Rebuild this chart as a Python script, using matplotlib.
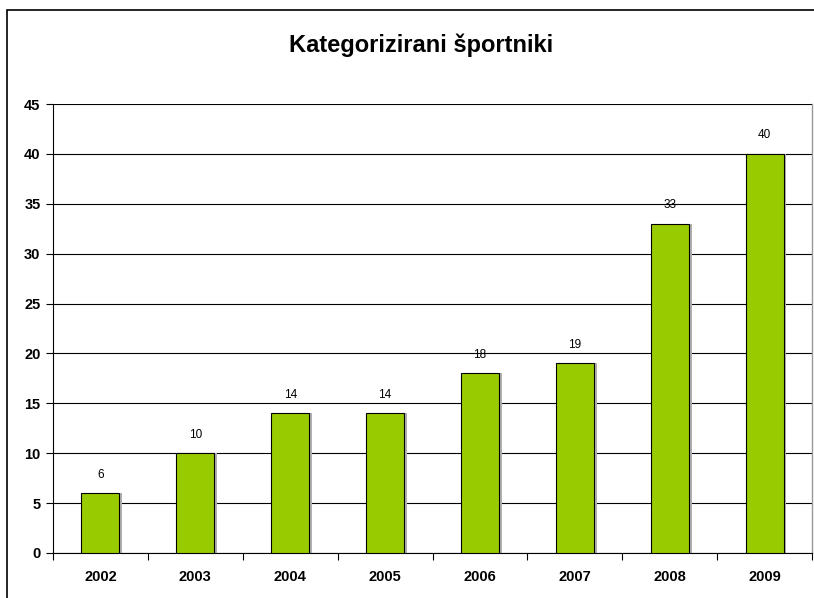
import matplotlib
matplotlib.use("Agg")
import matplotlib.pyplot as plt
from matplotlib.patches import Rectangle

years = ["2002", "2003", "2004", "2005", "2006", "2007", "2008", "2009"]
values = [6, 10, 14, 14, 18, 19, 33, 40]
title = "Kategorizirani športniki"

plt.rcParams['font.family'] = ['Liberation Sans', 'DejaVu Sans']

W, H = 814, 598
fig = plt.figure(figsize=(W / 100, H / 100), dpi=100)
fig.patch.set_facecolor("white")

# outer chart-area frame (cropped at right/bottom)
fig.add_artist(Rectangle((7 / W, -0.1), 1.2, 1 - 10 / H + 0.1, transform=fig.transFigure,
                         fill=False, edgecolor="black", linewidth=1.2))

ax = fig.add_axes([53 / W, 1 - 553 / H, (812 - 53) / W, (553 - 104) / H])
x = list(range(len(years)))
# shadow
ax.bar([i + 0.03 for i in x], values, width=0.4, color="#b0b0b0", zorder=2, linewidth=0)
bars = ax.bar(x, values, width=0.4, color="#99cc00", edgecolor="black", linewidth=0.8, zorder=3)

ax.set_xlim(-0.5, len(years) - 0.5)
ax.set_ylim(0, 45)
ax.set_yticks(range(0, 46, 5))
ax.set_yticklabels([str(v) for v in range(0, 46, 5)], fontsize=10.5, fontweight="bold")
ax.set_xticks(x)
ax.set_xticklabels(years, fontsize=10.5, fontweight="bold")
ax.tick_params(axis="x", length=0, pad=12)
ax.set_xticks([i + 0.5 for i in range(-1, len(years))], minor=True)
ax.tick_params(axis="x", which="minor", length=5, width=0.8, direction="out")
ax.tick_params(axis="y", length=5, width=0.8, direction="out", pad=4)
ax.yaxis.grid(True, color="black", linewidth=0.8, zorder=0)
ax.set_axisbelow(True)
for s in ["top", "right"]:
    ax.spines[s].set_color("#999999")
    ax.spines[s].set_linewidth(1)
ax.spines["top"].set_visible(False)
for s in ["left", "bottom"]:
    ax.spines[s].set_color("black")
    ax.spines[s].set_linewidth(0.8)

for b, v in zip(bars, values):
    ax.annotate(str(v), (b.get_x() + b.get_width() / 2, v), xytext=(0, 9),
                textcoords="offset points", ha="center", va="bottom", fontsize=8.5)

fig.text(421 / W, 1 - 45 / H, title, ha="center", va="center", fontsize=17, fontweight="bold")

fig.savefig("out.png", dpi=100)
